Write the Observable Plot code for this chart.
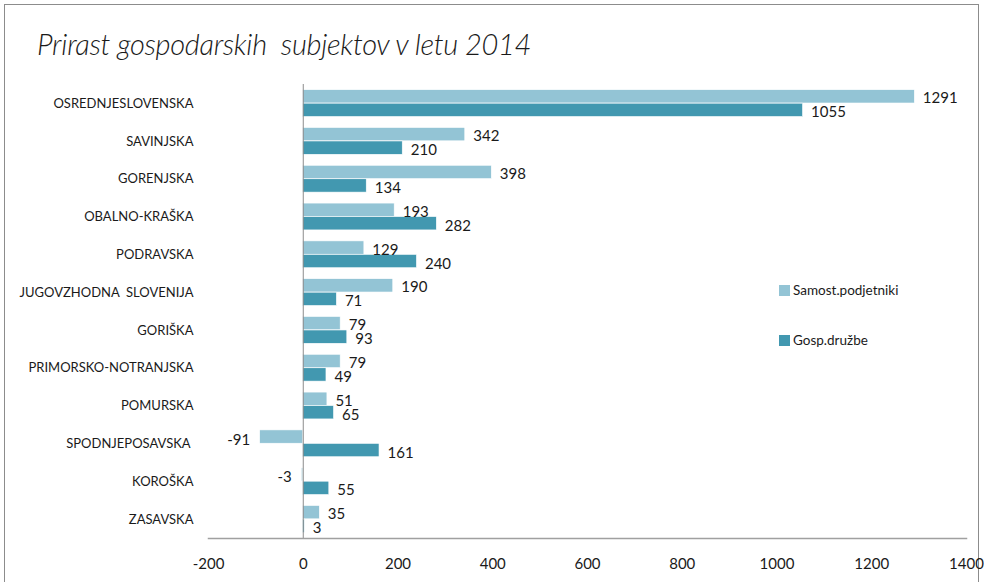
<!DOCTYPE html>
<html>
<head>
<meta charset="utf-8">
<script src="https://cdn.jsdelivr.net/npm/d3@7"></script>
<script src="https://cdn.jsdelivr.net/npm/@observablehq/plot@0.6"></script>
<style>
  html, body { margin: 0; padding: 0; background: #fff; overflow: hidden; }
  #wrap { position: relative; width: 984px; height: 582px; font-family: Lato, "Open Sans", sans-serif; }
  #border { position: absolute; left: 4px; top: 4px; width: 975px; height: 640px; border: 1px solid #8c8c8c; box-sizing: border-box; }
  #title { position: absolute; left: 37px; top: 26px; font-size: 29px; font-style: italic; font-weight: 300; color: #1a1a1a; white-space: pre; letter-spacing: -0.3px; }
  #chart { position: absolute; left: 0; top: 0; }
  .leg { position: absolute; left: 779px; font-size: 13.5px; color: #1a1a1a; display: flex; align-items: center; white-space: nowrap; }
  .leg span.sw { display: inline-block; width: 11px; height: 11px; margin-right: 3px; }
</style>
</head>
<body>
<div id="wrap">
  <div id="border"></div>
  <div id="title">Prirast gospodarskih  subjektov v letu 2014</div>
  <div id="chart"></div>
  <div id="legend"></div>
</div>
<script>
const regions = ["OSREDNJESLOVENSKA", "SAVINJSKA", "GORENJSKA", "OBALNO-KRAŠKA", "PODRAVSKA", "JUGOVZHODNA  SLOVENIJA", "GORIŠKA", "PRIMORSKO-NOTRANJSKA", "POMURSKA", "SPODNJEPOSAVSKA ", "KOROŠKA", "ZASAVSKA"];
const samostPodjetniki = [1291, 342, 398, 193, 129, 190, 79, 79, 51, -91, -3, 35];
const gospDruzbe = [1055, 210, 134, 282, 240, 71, 93, 49, 65, 161, 55, 3];
const seriesNames = ["Samost.podjetniki", "Gosp.družbe"];
const seriesColors = ["#93c4d5", "#4298b0"];
const xTicks = [-200, 0, 200, 400, 600, 800, 1000, 1200, 1400];

const light = regions.map((r, i) => ({region: r, value: samostPodjetniki[i], series: seriesNames[0]}));
const dark = regions.map((r, i) => ({region: r, value: gospDruzbe[i], series: seriesNames[1]}));

const labelFont = {fontSize: 15, fill: "#1a1a1a"};

const plot = Plot.plot({
  width: 984,
  height: 582,
  marginLeft: 208,
  marginRight: 18,
  marginTop: 84,
  marginBottom: 44,
  style: {fontFamily: "Lato, 'Open Sans', sans-serif", background: "transparent"},
  x: {domain: [-200, 1400], ticks: xTicks, tickSize: 0, tickPadding: 20, label: null, tickFormat: d => String(d)},
  y: {domain: regions, paddingInner: 0.29, paddingOuter: 0.15, round: false, tickSize: 0, tickPadding: 15, label: null},
  marks: [
    Plot.barX(light, {x: "value", y: "region", fill: seriesColors[0], insetBottom: 13.5, stroke: "white", strokeWidth: 0.6}),
    Plot.barX(dark, {x: "value", y: "region", fill: seriesColors[1], insetTop: 13.5, stroke: "white", strokeWidth: 0.6}),
    Plot.ruleX([0], {stroke: "#8c8c8c", strokeWidth: 1}),
    Plot.frame({anchor: "bottom", stroke: "#a0a0a0", strokeWidth: 1.5}),
    Plot.text(light.filter(d => d.value >= 0), {x: "value", y: "region", text: d => String(d.value), textAnchor: "start", dx: 8, dy: -5, ...labelFont}),
    Plot.text(light.filter(d => d.value < 0), {x: "value", y: "region", text: d => String(d.value), textAnchor: "end", dx: -10, dy: -4, ...labelFont}),
    Plot.text(dark, {x: "value", y: "region", text: d => String(d.value), textAnchor: "start", dx: 8, dy: 9, ...labelFont})
  ]
});
plot.querySelectorAll("g[aria-label='y-axis tick label']").forEach(el => { el.style.fontSize = "13px"; el.style.fill = "#1a1a1a"; });
plot.querySelectorAll("g[aria-label='x-axis tick label']").forEach(el => { el.style.fontSize = "15px"; el.style.fill = "#1a1a1a"; });
plot.querySelectorAll("g[aria-label='y-axis tick label'] text").forEach(el => el.setAttribute("xml:space", "preserve"));
document.getElementById("chart").appendChild(plot);

const legend = document.getElementById("legend");
const legTops = [282, 332];
seriesNames.forEach((name, i) => {
  const d = document.createElement("div");
  d.className = "leg";
  d.style.top = legTops[i] + "px";
  d.innerHTML = `<span class="sw" style="background:${seriesColors[i]}"></span><span>${name}</span>`;
  legend.appendChild(d);
});
</script>
</body>
</html>
